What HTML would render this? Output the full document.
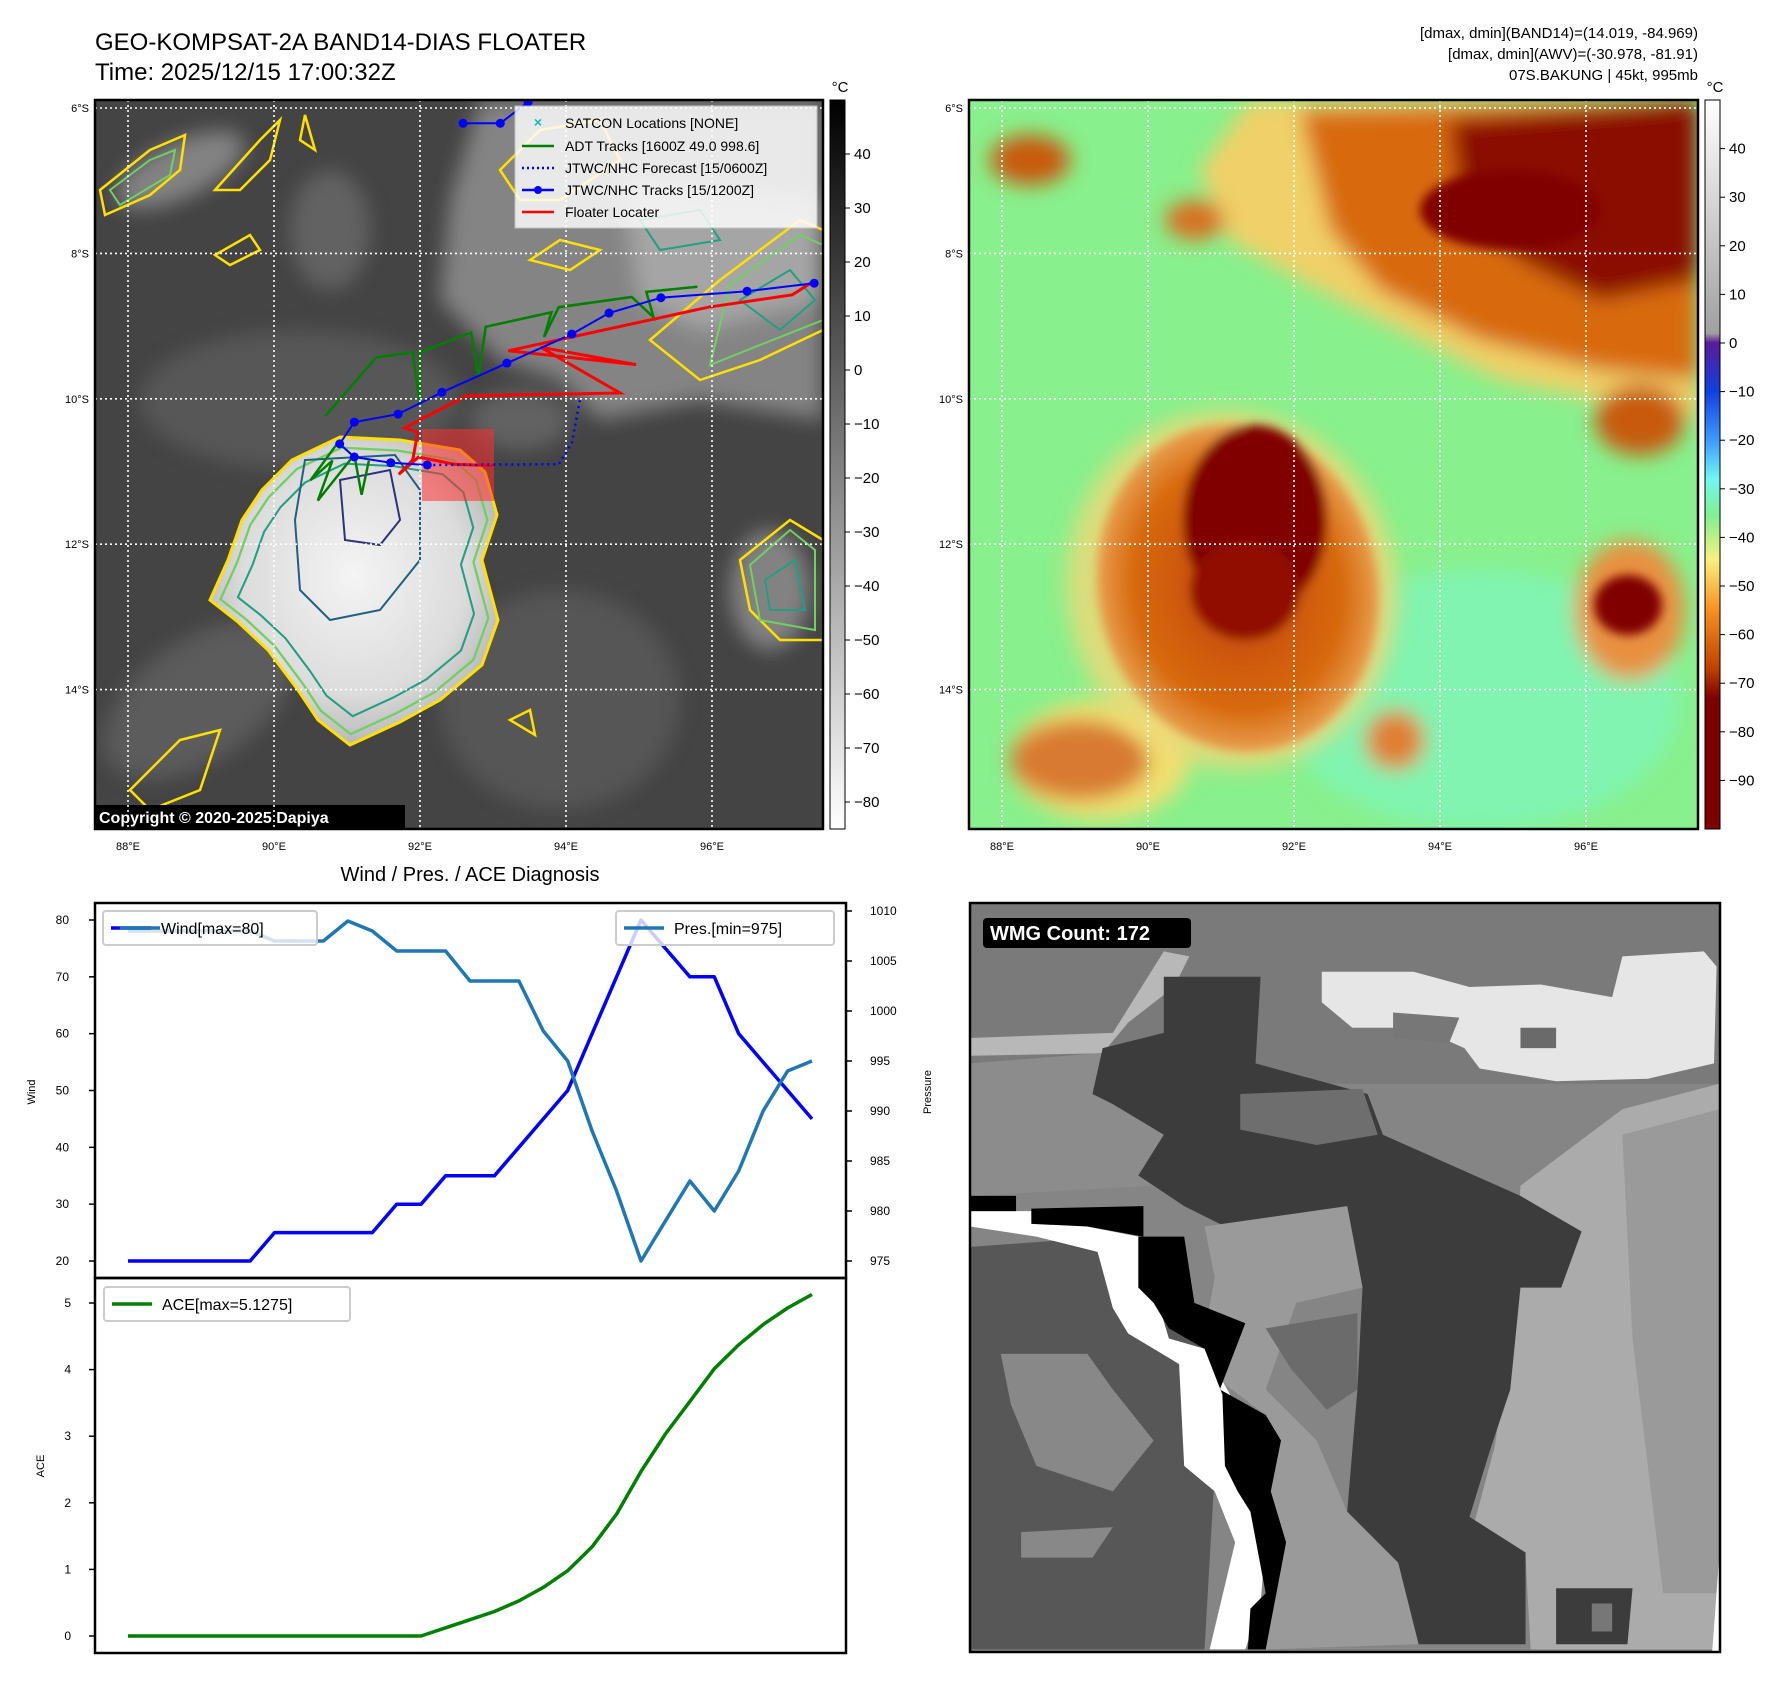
<!DOCTYPE html>
<html><head><meta charset="utf-8"><style>
html,body{margin:0;padding:0;background:#fff;}
svg{display:block;font-family:"Liberation Sans","DejaVu Sans",sans-serif;}
</style></head><body>
<svg id="root" width="1788" height="1690" viewBox="0 0 1788 1690" xmlns="http://www.w3.org/2000/svg">
<defs>
<linearGradient id="gcb" x1="0" y1="0" x2="0" y2="1"><stop offset="0" stop-color="#000"/><stop offset="1" stop-color="#fff"/></linearGradient>
<linearGradient id="ccb" x1="0" y1="0" x2="0" y2="1">
<stop offset="0" stop-color="#ffffff"/><stop offset="0.32" stop-color="#a0a0a0"/>
<stop offset="0.333" stop-color="#5a1a9a"/><stop offset="0.4" stop-color="#1040e0"/><stop offset="0.47" stop-color="#40a0ff"/>
<stop offset="0.52" stop-color="#70f8f0"/><stop offset="0.57" stop-color="#80f090"/><stop offset="0.63" stop-color="#f8f080"/>
<stop offset="0.7" stop-color="#f89020"/><stop offset="0.78" stop-color="#c04000"/><stop offset="0.82" stop-color="#800000"/><stop offset="1" stop-color="#800000"/></linearGradient>
<radialGradient id="cloud" cx="0.5" cy="0.45" r="0.55"><stop offset="0" stop-color="#f4f4f4"/><stop offset="0.7" stop-color="#dcdcdc"/><stop offset="1" stop-color="#b8b8b8"/></radialGradient>
<radialGradient id="orng" cx="0.5" cy="0.5" r="0.5"><stop offset="0" stop-color="#c04000"/><stop offset="0.75" stop-color="#d86a10"/><stop offset="1" stop-color="#e8a050"/></radialGradient>
<filter id="blur4"><feGaussianBlur stdDeviation="5"/></filter>
<filter id="blur10"><feGaussianBlur stdDeviation="10"/></filter>
<clipPath id="clipL"><rect x="95" y="100" width="728" height="729"/></clipPath>
<clipPath id="clipR"><rect x="969" y="100" width="729" height="729"/></clipPath>
<clipPath id="clipW"><rect x="970" y="903" width="750" height="749"/></clipPath>
</defs>

<text x="95" y="50" font-size="24">GEO-KOMPSAT-2A BAND14-DIAS FLOATER</text>
<text x="95" y="80" font-size="24">Time: 2025/12/15 17:00:32Z</text>
<g font-size="15" text-anchor="end">
<text x="1698" y="38">[dmax, dmin](BAND14)=(14.019, -84.969)</text>
<text x="1698" y="59">[dmax, dmin](AWV)=(-30.978, -81.91)</text>
<text x="1698" y="80">07S.BAKUNG | 45kt, 995mb</text>
</g>

<g clip-path="url(#clipL)">
<rect x="95" y="100" width="728" height="729" fill="#444"/>
<g filter="url(#blur10)" opacity="0.9">
<path d="M480,100 L823,100 L823,420 L700,400 L600,420 L560,380 L500,360 L440,300 L450,200 Z" fill="#8c8c8c"/>
<path d="M620,180 L823,200 L823,300 L700,330 L640,300 Z" fill="#b0b0b0"/>
<ellipse cx="180" cy="170" rx="70" ry="28" fill="#8a8a8a" transform="rotate(-25 180 170)"/>
<ellipse cx="300" cy="400" rx="160" ry="70" fill="#5a5a5a"/>
<ellipse cx="200" cy="700" rx="110" ry="60" fill="#5e5e5e" transform="rotate(-35 200 700)"/>
<ellipse cx="560" cy="700" rx="120" ry="110" fill="#585858"/>
<ellipse cx="770" cy="590" rx="40" ry="60" fill="#8a8a8a"/>
<ellipse cx="330" cy="230" rx="40" ry="60" fill="#666"/>
<ellipse cx="520" cy="420" rx="50" ry="30" fill="#666"/>
</g>
<path d="M340,437 L400,440 L460,450 L485,472 L497,515 L482,560 L498,620 L482,665 L440,700 L400,722 L350,745 L318,720 L298,690 L268,650 L238,622 L210,600 L228,560 L242,520 L262,490 L292,460 Z" fill="url(#cloud)" stroke="#ffe000" stroke-width="3"/>
<path d="M340,437 L400,440 L460,450 L485,472 L497,515 L482,560 L498,620 L482,665 L440,700 L400,722 L350,745 L318,720 L298,690 L268,650 L238,622 L210,600 L228,560 L242,520 L262,490 L292,460 Z" fill="none" stroke="#70d060" stroke-width="2.5" transform="translate(360 590) scale(0.93) translate(-360 -590)"/>
<path d="M340,437 L400,440 L460,450 L485,472 L497,515 L482,560 L498,620 L482,665 L440,700 L400,722 L350,745 L318,720 L298,690 L268,650 L238,622 L210,600 L228,560 L242,520 L262,490 L292,460 Z" fill="none" stroke="#20a080" stroke-width="2.5" transform="translate(365 585) scale(0.82) translate(-365 -585)"/>
<path d="M305,460 L395,455 L420,490 L420,560 L380,610 L330,620 L300,590 L295,520 Z" fill="none" stroke="#206080" stroke-width="2"/>
<path d="M340,480 L390,470 L400,520 L380,545 L345,540 Z" fill="none" stroke="#303080" stroke-width="2"/>
<g fill="none" stroke="#ffe000" stroke-width="2.5">
<path d="M100,190 L150,150 L185,135 L180,170 L150,195 L105,215 Z"/>
<path d="M215,190 L260,140 L280,120 L270,160 L240,190 Z"/>
<path d="M300,140 L305,115 L315,150 Z"/>
<path d="M215,255 L250,235 L260,250 L230,265 Z"/>
<path d="M720,280 L800,220 L823,230 L823,330 L760,360 L700,380 L650,340 Z"/>
<path d="M740,560 L790,520 L823,540 L823,640 L780,640 L750,610 Z"/>
<path d="M500,170 L540,130 L600,120 L620,160 L560,200 L520,200 Z"/>
<path d="M530,260 L560,240 L600,250 L570,270 Z"/>
<path d="M130,790 L180,740 L220,730 L200,790 L150,810 Z"/>
<path d="M510,720 L530,710 L535,735 Z"/>
</g>
<g fill="none" stroke="#70d060" stroke-width="2">
<path d="M110,190 L150,160 L175,150 L170,175 L120,205 Z"/>
<path d="M730,285 L800,235 L823,245 L823,320 L760,345 L710,365 Z"/>
<path d="M750,565 L790,530 L815,550 L815,630 L760,620 Z"/>
</g>
<g fill="none" stroke="#20a080" stroke-width="2">
<path d="M740,300 L790,270 L815,300 L780,330 Z"/>
<path d="M765,580 L795,560 L805,610 L770,610 Z"/>
<path d="M640,220 L700,210 L720,240 L660,250 Z"/>
</g>
<rect x="422" y="429" width="72" height="72" fill="#ff3030" opacity="0.55"/>
<g id="tracks"></g>
<rect x="95" y="805" width="310" height="26" fill="#000"/>
<text x="99" y="823" font-size="16" font-weight="bold" fill="#fff">Copyright © 2020-2025 Dapiya</text>
</g>
<g id="gridL"></g>
<rect x="95" y="100" width="728" height="729" fill="none" stroke="#000" stroke-width="2.5"/>
<g>
<rect x="515" y="106" width="302" height="122" fill="#fff" opacity="0.82" stroke="#ccc"/>
<text x="538" y="127" font-size="14" fill="#1bb" text-anchor="middle" font-weight="bold">×</text>
<text x="565" y="128" font-size="14">SATCON Locations [NONE]</text>
<line x1="522" y1="146" x2="554" y2="146" stroke="#008000" stroke-width="2.5"/>
<text x="565" y="151" font-size="14">ADT Tracks [1600Z 49.0 998.6]</text>
<line x1="522" y1="168" x2="554" y2="168" stroke="#00f" stroke-width="2.5" stroke-dasharray="2,3"/>
<text x="565" y="173" font-size="14">JTWC/NHC Forecast [15/0600Z]</text>
<line x1="522" y1="190" x2="554" y2="190" stroke="#00f" stroke-width="2.5"/><circle cx="538" cy="190" r="4" fill="#00f"/>
<text x="565" y="195" font-size="14">JTWC/NHC Tracks [15/1200Z]</text>
<line x1="522" y1="212" x2="554" y2="212" stroke="#f00" stroke-width="2.5"/>
<text x="565" y="217" font-size="14">Floater Locater</text>
</g>
<rect x="830" y="100" width="15" height="729" fill="url(#gcb)" stroke="#000"/>
<text x="840" y="92" font-size="15" text-anchor="middle">°C</text>
<g id="cbL" font-size="15"></g>

<g clip-path="url(#clipR)">
<rect x="969" y="100" width="729" height="729" fill="#88f08c"/>
<g filter="url(#blur10)">
<ellipse cx="1480" cy="700" rx="200" ry="130" fill="#80f4b0"/>
<ellipse cx="1100" cy="760" rx="90" ry="60" fill="#f0e070"/>
<path d="M1250,100 L1698,100 L1698,420 L1600,400 L1500,380 L1400,330 L1300,280 L1230,240 L1200,170 Z" fill="#f0d068"/>
<path d="M1300,110 L1698,100 L1698,380 L1600,370 L1480,340 L1380,290 L1330,230 Z" fill="#d86a10"/>
<path d="M1450,120 L1698,100 L1698,280 L1600,300 L1520,260 L1460,200 Z" fill="#8a1000"/>
<ellipse cx="1030" cy="160" rx="40" ry="25" fill="#c85a10"/>
<ellipse cx="1195" cy="220" rx="30" ry="20" fill="#d87020"/>
<ellipse cx="1640" cy="420" rx="45" ry="35" fill="#c85a10"/>
<ellipse cx="1630" cy="610" rx="55" ry="70" fill="#e89040"/>
<ellipse cx="1080" cy="760" rx="70" ry="40" fill="#d87a30"/>
<ellipse cx="1395" cy="740" rx="30" ry="30" fill="#e08030"/>
</g>
<g filter="url(#blur10)">
<ellipse cx="1232" cy="590" rx="165" ry="180" fill="#f0d878" opacity="0.8" transform="rotate(-12 1232 590)"/>
</g>
<g filter="url(#blur4)">
<ellipse cx="1238" cy="588" rx="140" ry="165" fill="url(#orng)" transform="rotate(-12 1238 588)"/>
<ellipse cx="1255" cy="520" rx="72" ry="95" fill="#800000"/>
<ellipse cx="1245" cy="590" rx="55" ry="50" fill="#900800"/>
<ellipse cx="1628" cy="605" rx="34" ry="30" fill="#800000"/>
<ellipse cx="1510" cy="210" rx="90" ry="40" fill="#800000"/>
</g>
</g>
<g id="gridR"></g>
<rect x="969" y="100" width="729" height="729" fill="none" stroke="#000" stroke-width="2.5"/>
<rect x="1705" y="100" width="15" height="729" fill="url(#ccb)" stroke="#000"/>
<text x="1715" y="92" font-size="15" text-anchor="middle">°C</text>
<g id="cbR" font-size="15"></g>

<text x="470" y="881" font-size="20" text-anchor="middle">Wind / Pres. / ACE Diagnosis</text>
<g id="chart"></g>

<g clip-path="url(#clipW)">
<g transform="translate(960 880) scale(0.5095)">
<rect x="0" y="0" width="1600" height="1600" fill="#858585"/>
<path d="M20,45 L1490,45 L1490,400 L20,400 Z" fill="#7a7a7a"/>
<path d="M1100,600 L1300,450 L1490,400 L1490,1510 L1120,1510 L1110,1330 L1010,1260 L1050,1110 L1090,800 Z" fill="#ababab"/>
<path d="M1300,500 L1490,450 L1490,1400 L1380,1400 L1320,900 Z" fill="#9a9a9a"/>
<path d="M20,310 L300,300 L400,140 L450,150 L420,210 L330,280 L280,340 L20,345 Z" fill="#b8b8b8"/>
<path d="M20,360 L400,330 L420,420 L380,600 L20,620 Z" fill="#8c8c8c"/>
<path d="M20,720 L300,700 L480,900 L500,1160 L480,1510 L20,1510 Z" fill="#575757"/>
<path d="M80,930 L250,930 L300,1000 L380,1100 L300,1200 L150,1150 L100,1030 Z" fill="#888"/>
<path d="M120,1280 L300,1270 L260,1330 L120,1330 Z" fill="#888"/>
<path d="M400,190 L590,190 L580,360 L800,420 L830,500 L1100,620 L1220,690 L1180,800 L1100,800 L1080,1000 L1040,1120 L1000,1250 L1110,1320 L1110,1500 L900,1500 L860,1340 L760,1240 L780,1000 L790,800 L760,640 L560,700 L440,640 L350,580 L400,500 L300,440 L260,420 L280,330 L400,300 Z" fill="#3c3c3c"/>
<path d="M550,420 L790,410 L820,500 L700,520 L550,490 Z" fill="#6e6e6e"/>
<path d="M480,680 L760,640 L790,800 L660,830 L600,1000 L700,1100 L760,1240 L860,1340 L900,1500 L600,1510 L620,1250 L580,1180 L630,1100 L600,1050 L520,990 L480,890 L500,780 Z" fill="#9a9a9a"/>
<path d="M600,880 L780,850 L780,1000 L720,1040 L650,960 Z" fill="#6b6b6b"/>
<path d="M710,180 L890,180 L1000,210 L1140,205 L1280,230 L1300,150 L1460,140 L1485,170 L1480,360 L1350,390 L1170,395 L1020,370 L990,330 L900,290 L770,290 L710,240 Z" fill="#e6e6e6"/>
<path d="M850,260 L980,270 L960,320 L850,310 Z" fill="#777"/>
<path d="M1100,290 L1170,290 L1170,330 L1100,330 Z" fill="#6a6a6a"/>
<path d="M20,650 L140,650 L250,680 L350,700 L410,900 L480,920 L530,1010 L520,1150 L570,1200 L600,1290 L590,1420 L560,1510 L490,1510 L540,1300 L500,1200 L440,1150 L430,950 L330,890 L300,840 L270,730 L150,700 L20,680 Z" fill="#fff"/>
<path d="M350,700 L440,700 L460,830 L560,870 L510,1000 L600,1050 L630,1100 L610,1200 L640,1300 L600,1510 L565,1510 L570,1430 L600,1400 L570,1240 L545,1200 L520,1150 L515,1010 L480,920 L410,880 L380,830 L350,800 Z" fill="#000"/>
<path d="M20,620 L110,620 L110,650 L20,650 Z" fill="#000"/>
<path d="M140,645 L360,640 L360,700 L250,680 L140,675 Z" fill="#000"/>
<path d="M1170,1390 L1320,1390 L1310,1500 L1170,1500 Z" fill="#3c3c3c"/>
<path d="M1240,1420 L1280,1420 L1280,1475 L1240,1475 Z" fill="#777"/>
<path d="M1490,1330 L1600,1300 L1600,1600 L1470,1600 Z" fill="#fff"/>
</g>
</g>
<rect x="970" y="903" width="750" height="749" fill="none" stroke="#000" stroke-width="2.5"/>
<rect x="983" y="918" width="208" height="30" rx="4" fill="#000"/>
<text x="990" y="940" font-size="20" font-weight="bold" fill="#fff">WMG Count: 172</text>
</svg>
<script>
var NS='http://www.w3.org/2000/svg';
function mk(parent,tag,attrs,txt){var e=document.createElementNS(NS,tag);for(var k in attrs)e.setAttribute(k,attrs[k]);if(txt!==undefined)e.textContent=txt;parent.appendChild(e);return e;}

var windValues=[20,20,20,20,20,20,25,25,25,25,25,30,30,35,35,35,40,45,50,60,70,80,75,70,70,60,55,50,45];
var presValues=[1008,1008,1008,1008,1008,1008,1007,1007,1007,1009,1008,1006,1006,1006,1003,1003,1003,998,995,988,982,975,979,983,980,984,990,994,995];
var aceValues=[0,0,0,0,0,0,0,0,0,0,0,0,0,0.1225,0.245,0.3675,0.5275,0.73,0.98,1.34,1.83,2.47,3.0325,3.5225,4.0125,4.3725,4.675,4.925,5.1275];
var windTicks=[20,30,40,50,60,70,80];
var presTicks=[975,980,985,990,995,1000,1005,1010];
var aceTicks=[0,1,2,3,4,5];
var latTicks=[6,8,10,12,14];
var lonTicks=[88,90,92,94,96];
var irCbTicks=[40,30,20,10,0,-10,-20,-30,-40,-50,-60,-70,-80];
var awvCbTicks=[40,30,20,10,0,-10,-20,-30,-40,-50,-60,-70,-80,-90];
var jtwcLon=[97.40,96.48,95.30,94.59,94.08,93.19,92.30,91.70,91.10,90.90,91.10,91.60,92.10];
var jtwcLat=[-8.41,-8.52,-8.61,-8.82,-9.11,-9.51,-9.91,-10.21,-10.32,-10.62,-10.80,-10.88,-10.91];
var jtwcTopLon=[92.59,93.10,93.48];
var jtwcTopLat=[-6.21,-6.21,-5.92];
var fcstLon=[92.10,93.90,94.08,94.19];
var fcstLat=[-10.91,-10.90,-10.61,-10.02];
var adtLon=[90.7,91.4,91.9,92.0,92.0,92.7,92.8,92.9,93.8,93.7,93.9,94.9,95.2,95.1,95.8];
var adtLat=[-10.24,-9.43,-9.36,-10.09,-9.36,-9.09,-9.70,-9.01,-8.81,-9.15,-8.74,-8.60,-8.88,-8.53,-8.46];
var adtLon2=[90.9,90.5,90.8,90.6,91.1,91.2,91.3];
var adtLat2=[-10.57,-11.12,-10.85,-11.40,-10.77,-11.32,-10.85];
var flLon=[97.35,97.10,95.95,93.21,94.96,93.65,94.74,92.63,91.79,91.97,91.90,91.71,91.98,92.47,93.00];
var flLat=[-8.41,-8.57,-8.74,-9.34,-9.53,-9.29,-9.92,-9.96,-10.40,-10.46,-10.84,-11.04,-10.80,-10.90,-10.92];

function lonX(l){return 128+(l-88)*73;}
function latY(la){return 108+(-la-6)*72.7;}
function lonXR(l){return lonX(l)+874;}
function pts(lo,la,fx){var s=[];for(var i=0;i<lo.length;i++)s.push(fx(lo[i]).toFixed(1)+','+latY(la[i]).toFixed(1));return s.join(' ');}

var tr=document.getElementById('tracks');
var p=mk(tr,'polyline',{points:pts(adtLon,adtLat,lonX),fill:'none',stroke:'#008000','stroke-width':2.5});


p=mk(tr,'polyline',{points:pts(adtLon2,adtLat2,lonX),fill:'none',stroke:'#008000','stroke-width':2.5});


p=mk(tr,'polyline',{points:pts(flLon,flLat,lonX),fill:'none',stroke:'#f00','stroke-width':3});


p=mk(tr,'polyline',{points:pts(fcstLon,fcstLat,lonX),fill:'none',stroke:'#00f','stroke-width':2.5,'stroke-dasharray':'2,4'});


[[jtwcLon,jtwcLat,'jtwc-track'],[jtwcTopLon,jtwcTopLat,'jtwc-track-north']].forEach(function(t){
  var pl=mk(tr,'polyline',{points:pts(t[0],t[1],lonX),fill:'none',stroke:'#00f','stroke-width':2});
  
  
  for(var i=0;i<t[0].length;i++){var c=mk(tr,'circle',{cx:lonX(t[0][i]),cy:latY(t[1][i]),r:4.5,fill:'#00f'});
    
    }
});

function grid(gid,x0,fx){
  var g=document.getElementById(gid);
  latTicks.forEach(function(v){var y=latY(-v);
    var l=mk(g,'line',{x1:x0,x2:x0+728,y1:y,y2:y,stroke:'#fff','stroke-width':1.6,'stroke-dasharray':'2,3'});
    
    
    var t=mk(g,'text',{x:x0-6,y:y+4,'font-size':11,'text-anchor':'end'},v+'°S');
    
    });
  lonTicks.forEach(function(v){var x=fx(v);
    var l=mk(g,'line',{x1:x,x2:x,y1:100,y2:829,stroke:'#fff','stroke-width':1.6,'stroke-dasharray':'2,3'});
    
    
    var t=mk(g,'text',{x:x,y:850,'font-size':11,'text-anchor':'middle'},v+'°E');
    
    });
}
grid('gridL',95,lonX);
grid('gridR',969,lonXR);

function cbar(gid,x,vals,vmax,vmin){
  var g=document.getElementById(gid);
  vals.forEach(function(v){var y=100+(vmax-v)/(vmax-vmin)*729;
    mk(g,'line',{x1:x+15,x2:x+20,y1:y,y2:y,stroke:'#000'});
    var t=mk(g,'text',{x:x+24,y:y+5},String(v).replace('-','−'));
    
    });
}
cbar('cbL',830,irCbTicks,50,-85);
cbar('cbR',1705,awvCbTicks,50,-100);

var ch=document.getElementById('chart');
var X0=128,X1=812,n=windValues.length;
function cx(i){return X0+(X1-X0)*i/(n-1);}
function wy(v){return 920+(80-v)*(1261-920)/60;}
function py(v){return 911+(1010-v)*(1261-911)/35;}
function ay(v){return 1636-v*(1636-1303)/5;}

mk(ch,'rect',{x:95,y:903,width:751,height:375,fill:'none',stroke:'#000','stroke-width':2.5});
mk(ch,'rect',{x:95,y:1278,width:751,height:375,fill:'none',stroke:'#000','stroke-width':2.5});
windTicks.forEach(function(v){var y=wy(v);mk(ch,'line',{x1:89,x2:95,y1:y,y2:y,stroke:'#000','stroke-width':1.5});
  var t=mk(ch,'text',{x:69,y:y+4,'font-size':12,'text-anchor':'end'},v);
  
  });
presTicks.forEach(function(v){var y=py(v);mk(ch,'line',{x1:846,x2:852,y1:y,y2:y,stroke:'#000','stroke-width':1.5});
  var t=mk(ch,'text',{x:870,y:y+4,'font-size':12},v);
  
  });
aceTicks.forEach(function(v){var y=ay(v);mk(ch,'line',{x1:89,x2:95,y1:y,y2:y,stroke:'#000','stroke-width':1.5});
  var t=mk(ch,'text',{x:71,y:y+4,'font-size':12,'text-anchor':'end'},v);
  
  });
var t=mk(ch,'text',{x:0,y:0,'font-size':11,'text-anchor':'middle',transform:'translate(35 1092) rotate(-90)'},'Wind');


t=mk(ch,'text',{x:0,y:0,'font-size':11,'text-anchor':'middle',transform:'translate(931 1092) rotate(-90)'},'Pressure');


t=mk(ch,'text',{x:0,y:0,'font-size':11,'text-anchor':'middle',transform:'translate(44 1466) rotate(-90)'},'ACE');



function line(vals,fy,color,name){var s=[];for(var i=0;i<vals.length;i++)s.push(cx(i).toFixed(1)+','+fy(vals[i]).toFixed(1));
  var l=mk(ch,'polyline',{points:s.join(' '),fill:'none',stroke:color,'stroke-width':3.5,'stroke-linejoin':'round'});
  
  }
line(windValues,wy,'#0000ff','wind-line');
line(presValues,py,'#1f77b4','pressure-line');
line(aceValues,ay,'#008000','ace-line');

function legend(x,y,w,color,label,name){
  var g=mk(ch,'g',{});
  
  
  mk(g,'rect',{x:x,y:y,width:w,height:34,rx:3,fill:'#fff','fill-opacity':0.8,stroke:'#ccc','stroke-width':2});
  mk(g,'line',{x1:x+8,x2:x+48,y1:y+17,y2:y+17,stroke:color,'stroke-width':3.5});
  mk(g,'text',{x:x+58,y:y+23,'font-size':16},label);
}
legend(103,911,214,'#0000ff','Wind[max=80]','wind-legend');
mk(ch,'line',{x1:120,x2:160,y1:928,y2:928,stroke:'#1f77b4','stroke-width':3.5});
legend(616,911,218,'#1f77b4','Pres.[min=975]','pressure-legend');
legend(104,1287,246,'#008000','ACE[max=5.1275]','ace-legend');
</script>
</body></html>
